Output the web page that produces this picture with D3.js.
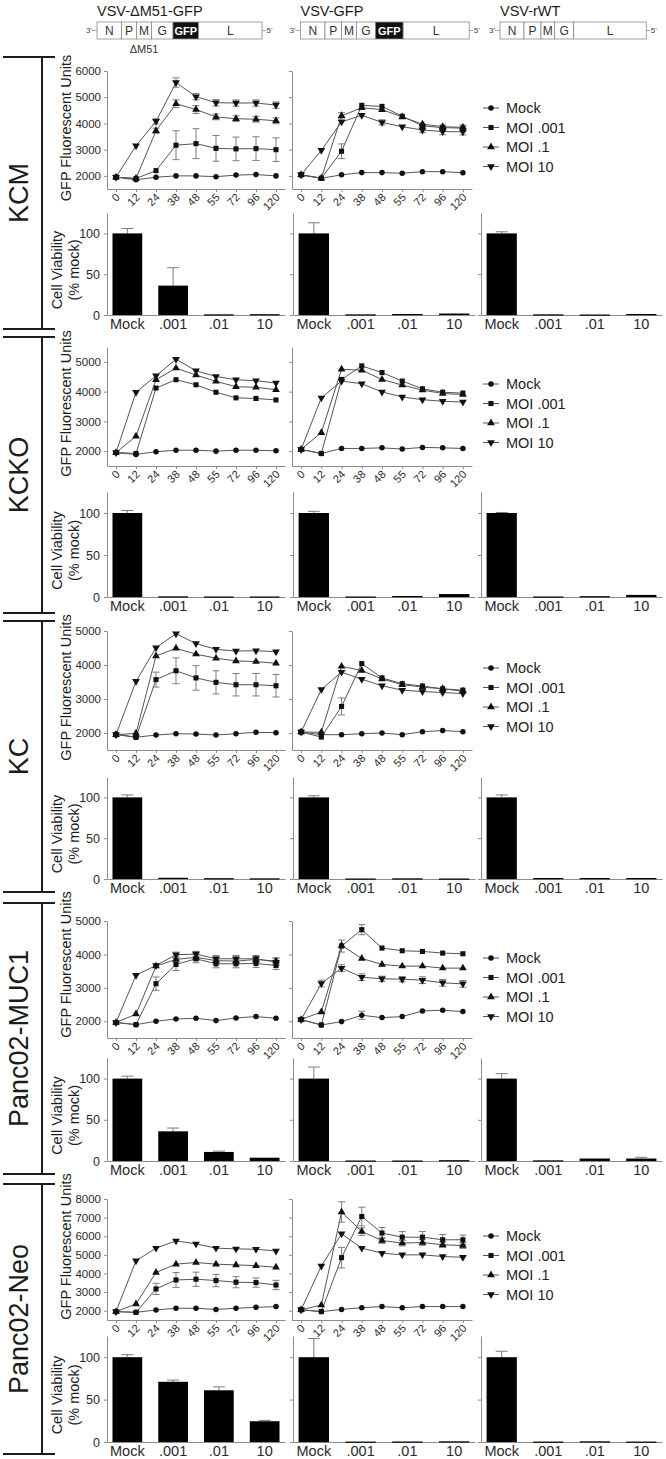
<!DOCTYPE html>
<html><head><meta charset="utf-8">
<script src="https://cdn.jsdelivr.net/npm/d3@7"></script>
<style>
body{margin:0;background:#fff}
svg text{font-family:"Liberation Sans",Arial,sans-serif}
</style>
</head><body>
<svg id="c" width="666" height="1459"></svg>
<script>
// ---------------- DATA ----------------
const times = ["0","12","24","38","48","55","72","96","120"];
const seriesNames = ["Mock","MOI .001","MOI .1","MOI 10"];
const barCats = ["Mock",".001",".01","10"];
const cellLines = ["KCM","KCKO","KC","Panc02-MUC1","Panc02-Neo"];
const viruses = ["VSV-\u0394M51-GFP","VSV-GFP","VSV-rWT"];
const genomeSegs = [["N","P","M","G","GFP","L"],["N","P","M","G","GFP","L"],["N","P","M","G","L"]];
const gfpTicks = [[2000,3000,4000,5000,6000],[2000,3000,4000,5000],[2000,3000,4000,5000],[2000,3000,4000,5000],[2000,3000,4000,5000,6000,7000,8000]];
const gfpMax = [6000,5500,5000,5000,8000];
const gfpMin = 1500;
const viabTicks = [0,50,100];
const viabMax = 125;

// GFP fluorescence: [Mock, MOI .001, MOI .1, MOI 10]
const gfp_KCM_dM51 = [
 [1950,1850,1950,2000,2000,1970,2030,2050,2000],
 [1950,1900,2200,3170,3230,3050,3030,3040,3000],
 [1950,1900,3720,4750,4530,4250,4180,4160,4100],
 [1950,3150,4080,5560,5020,4790,4780,4780,4700]];
const gfpErr_KCM_dM51 = [
 [20,20,20,20,20,20,20,20,20],
 [30,30,60,550,570,490,450,450,450],
 [30,30,100,150,150,110,110,110,110],
 [30,30,100,180,120,120,120,120,120]];
const gfp_KCM_GFP = [
 [2040,1910,2040,2125,2125,2100,2160,2160,2120],
 [2040,1910,2940,4690,4650,4275,3910,3840,3820],
 [2040,1910,4290,4600,4525,4250,3975,3875,3850],
 [2040,2975,4060,4310,4040,3875,3750,3690,3680]];
const gfpErr_KCM_GFP = [
 [20,20,20,20,20,20,20,20,20],
 [30,30,280,80,80,80,80,100,120],
 [30,30,120,60,60,60,80,80,80],
 [30,30,60,60,100,80,100,120,120]];

const gfp_KCKO_dM51 = [
 [1945,1890,1980,2030,2030,2000,2030,2030,2010],
 [1955,1920,4120,4400,4230,3980,3790,3770,3720],
 [1950,2500,4400,4790,4555,4345,4165,4145,4065],
 [1950,3980,4530,5090,4700,4510,4400,4365,4290]];
const gfpErr_KCKO_dM51 = [
 [20,20,20,20,20,20,20,20,20],
 [30,30,60,60,50,50,50,50,50],
 [30,30,50,50,50,50,50,50,50],
 [30,40,50,50,50,50,50,50,50]];
const gfp_KCKO_GFP = [
 [2057,1920,2090,2090,2110,2070,2125,2110,2090],
 [2057,1920,4410,4865,4640,4355,4095,3980,3950],
 [2057,2620,4750,4720,4410,4220,4050,3940,3900],
 [2057,3790,4355,4265,3990,3820,3730,3675,3650]];
const gfpErr_KCKO_GFP = [
 [20,20,20,20,20,20,20,20,20],
 [30,30,60,60,50,50,50,50,50],
 [30,30,50,50,50,50,50,50,50],
 [30,40,50,50,50,50,50,50,50]];

const gfp_KC_dM51 = [
 [1970,1875,1940,1980,1970,1940,1980,2020,2010],
 [1950,1875,3570,3830,3620,3490,3420,3420,3390],
 [1950,1990,4265,4490,4320,4200,4120,4100,4050],
 [1950,3520,4510,4920,4630,4460,4410,4420,4390]];
const gfpErr_KC_dM51 = [
 [20,20,20,20,20,20,20,20,20],
 [30,30,220,380,360,340,330,330,330],
 [30,30,40,40,40,40,40,40,40],
 [30,40,40,40,40,40,40,40,40]];
const gfp_KC_GFP = [
 [2030,1950,1950,1980,2000,1950,2040,2070,2040],
 [2030,1880,2780,4040,3620,3450,3380,3300,3260],
 [2030,2020,3960,3840,3590,3420,3350,3300,3230],
 [2030,3280,3790,3580,3390,3260,3220,3190,3160]];
const gfpErr_KC_GFP = [
 [20,20,20,20,20,20,20,20,20],
 [30,30,250,60,60,60,60,60,60],
 [30,30,50,50,50,50,50,50,50],
 [30,40,50,50,50,50,50,50,50]];

const gfp_MUC1_dM51 = [
 [1970,1900,2000,2070,2090,2020,2100,2140,2090],
 [1960,1900,3125,3700,3870,3720,3720,3730,3670],
 [1960,2215,3650,3850,3915,3815,3800,3850,3800],
 [1960,3380,3670,3990,4010,3870,3870,3870,3770]];
const gfpErr_MUC1_dM51 = [
 [20,20,20,20,20,20,20,20,20],
 [30,30,200,180,120,120,120,120,120],
 [30,30,60,100,100,100,100,100,100],
 [30,60,60,80,80,100,100,100,100]];
const gfp_MUC1_GFP = [
 [2050,1890,1990,2180,2110,2140,2310,2330,2290],
 [2050,1890,4250,4740,4190,4110,4090,4040,4020],
 [2050,2280,4270,3880,3700,3650,3650,3590,3590],
 [2050,3130,3590,3320,3270,3260,3230,3150,3120]];
const gfpErr_MUC1_GFP = [
 [20,20,20,120,40,40,40,40,40],
 [30,30,180,150,60,60,60,60,60],
 [30,30,50,50,50,50,50,50,50],
 [30,100,100,100,80,80,100,100,100]];

const gfp_Neo_dM51 = [
 [1950,1910,2040,2130,2130,2070,2130,2180,2220],
 [1950,1910,3170,3650,3690,3620,3530,3510,3380],
 [1950,2360,4050,4500,4590,4500,4460,4420,4330],
 [1950,4680,5360,5750,5590,5360,5320,5300,5210]];
const gfpErr_Neo_dM51 = [
 [20,20,20,20,20,20,20,20,20],
 [30,30,300,400,380,330,300,250,250],
 [30,30,60,60,60,60,60,60,60],
 [30,60,60,60,60,60,60,60,60]];
const gfp_Neo_GFP = [
 [2050,1950,2070,2160,2220,2160,2220,2220,2220],
 [2050,1950,4850,7060,6170,5950,5950,5810,5810],
 [2050,2300,7300,6250,5770,5630,5660,5540,5500],
 [2050,4400,6130,5360,5090,5000,5000,4910,4870]];
const gfpErr_Neo_GFP = [
 [20,20,20,20,20,20,20,20,20],
 [30,30,550,500,300,300,300,280,250],
 [30,30,550,200,150,150,150,150,150],
 [30,60,80,60,60,60,60,60,60]];

// Cell viability (% mock): per virus [Mock,.001,.01,10]
const viab_KCM  = [[100,36,0.8,1.0],[100,0.8,1.2,1.8],[100,0.8,0.6,1.2]];
const viabErr_KCM  = [[6,22,0,0],[13,0,0,0],[2,0,0,0]];
const viab_KCKO = [[100,0.8,0.6,0.6],[100,0.6,1.2,3.5],[100,0.6,1.0,2.5]];
const viabErr_KCKO = [[3,0,0,0],[2,0,0,0],[0.6,0,0,0]];
const viab_KC   = [[100,1.5,1.0,0.8],[100,0.6,0.8,0.6],[100,1.2,1.2,1.2]];
const viabErr_KC   = [[3,0,0,0],[2,0,0,0],[3,0,0,0]];
const viab_MUC1 = [[100,36,11,4],[100,0.6,0.6,1.0],[100,0.8,3,3]];
const viabErr_MUC1 = [[3,4,1,0],[14,0,0,0],[6,0,0,1.5]];
const viab_Neo  = [[100,71,61,24.5],[100,0.5,0.6,0.8],[100,0.5,0.8,0.5]];
const viabErr_Neo  = [[3,2,4,1],[22,0,0,0],[7,0,0,0]];

const gfpPanels = [[gfp_KCM_dM51,gfp_KCM_GFP],[gfp_KCKO_dM51,gfp_KCKO_GFP],[gfp_KC_dM51,gfp_KC_GFP],[gfp_MUC1_dM51,gfp_MUC1_GFP],[gfp_Neo_dM51,gfp_Neo_GFP]];
const gfpErrPanels = [[gfpErr_KCM_dM51,gfpErr_KCM_GFP],[gfpErr_KCKO_dM51,gfpErr_KCKO_GFP],[gfpErr_KC_dM51,gfpErr_KC_GFP],[gfpErr_MUC1_dM51,gfpErr_MUC1_GFP],[gfpErr_Neo_dM51,gfpErr_Neo_GFP]];
const viabPanels = [viab_KCM,viab_KCKO,viab_KC,viab_MUC1,viab_Neo];
const viabErrPanels = [viabErr_KCM,viabErr_KCKO,viabErr_KC,viabErr_MUC1,viabErr_Neo];

// ---------------- LAYOUT ----------------
const lineCols = [[107,285],[292,472]];
const barCols = [[107,285],[293,475],[481,662]];
const groupLineY = [[71,189],[347,466],[631,750],[921,1038],[1199,1320]];
const groupBarY = [[213,315],[492,597],[777,879],[1058,1161],[1336,1442]];
const groupBounds = [[57,329],[337,613],[621,892],[903,1174],[1184,1454]];
const gfpLabelShift = [-2,-3,-3,-15,-13];
const genomeX = [97,300.5,500];
const genomeW = [[24.5,15,15,21.5,25.5,63.5],[24.5,16.5,15,19,27.7,66],[24,17,13.7,19,72.6]];

const ink = "#1c1c1c", axisCol = "#8c8c8c", lineCol = "#555", errCol = "#7d7d7d", markCol = "#111";
const svg = d3.select("#c");

// ---------- header: titles & genome maps ----------
viruses.forEach((v,i)=>{
  const gx0 = genomeX[i];
  svg.append("text").attr("x",gx0).attr("y",16).text(v)
    .style("font-size","14.5px").attr("fill",ink);
  let x = gx0;
  genomeSegs[i].forEach((s,j)=>{
    const w = genomeW[i][j];
    const isG = s==="GFP";
    svg.append("rect").attr("x",x).attr("y",22).attr("width",w).attr("height",17)
      .attr("fill",isG?"#111":"#fff").attr("stroke","#8a8a8a").attr("stroke-width",0.8);
    svg.append("text").attr("x",x+w/2).attr("y",35).attr("text-anchor","middle").text(s)
      .style("font-size",isG?"11px":"12px").style("font-weight",isG?"bold":"normal")
      .attr("fill",isG?"#fff":"#333");
    x += w;
  });
  svg.append("text").attr("x",gx0-5).attr("y",33).attr("text-anchor","end").text("3'")
    .style("font-size","8px").attr("fill","#444");
  svg.append("line").attr("x1",gx0-5).attr("x2",gx0).attr("y1",30.5).attr("y2",30.5).attr("stroke","#8a8a8a").attr("stroke-width",0.8);
  svg.append("line").attr("x1",x).attr("x2",x+4).attr("y1",30.5).attr("y2",30.5).attr("stroke","#8a8a8a").attr("stroke-width",0.8);
  svg.append("text").attr("x",x+4.5).attr("y",33).text("5'")
    .style("font-size","8px").attr("fill","#444");
  if(i===0){
    const mx = gx0 + genomeW[0][0] + genomeW[0][1] + genomeW[0][2]/2;
    svg.append("text").attr("x",mx).attr("y",53).attr("text-anchor","middle").text("\u0394M51")
      .style("font-size","11px").attr("fill","#333");
  }
});

// ---------- left brackets & group labels ----------
groupBounds.forEach(([t,b],g)=>{
  svg.append("line").attr("x1",3).attr("x2",55).attr("y1",t).attr("y2",t).attr("stroke",ink).attr("stroke-width",2);
  svg.append("line").attr("x1",3).attr("x2",55).attr("y1",b).attr("y2",b).attr("stroke",ink).attr("stroke-width",2);
  svg.append("line").attr("x1",42).attr("x2",42).attr("y1",t).attr("y2",b).attr("stroke",ink).attr("stroke-width",2);
  svg.append("text").attr("transform",`translate(28,${(t+b)/2}) rotate(-90)`)
    .attr("text-anchor","middle").text(cellLines[g]).style("font-size","27px").attr("fill",ink);
});

function styleAxis(sel){
  sel.selectAll("path.domain").attr("stroke",axisCol).attr("stroke-width",1);
  sel.selectAll(".tick line").attr("stroke",axisCol);
  sel.selectAll(".tick text").attr("fill","#2a2a2a").style("font-family","'Liberation Sans',Arial,sans-serif");
}

const symbols = [d3.symbol().type(d3.symbolCircle).size(24),
                 d3.symbol().type(d3.symbolSquare).size(26),
                 d3.symbol().type(d3.symbolTriangle).size(26),
                 d3.symbol().type(d3.symbolTriangle).size(26)];
const symRot = [0,0,0,180];

// ---------- line charts ----------
cellLines.forEach((cl,g)=>{
  const [yTop,yBot] = groupLineY[g];
  const y = d3.scaleLinear().domain([gfpMin,gfpMax[g]]).range([yBot,yTop]);
  for(let c=0;c<2;c++){
    const [x0,x1] = lineCols[c];
    const x = d3.scalePoint().domain(times).range([x0,x1]).padding(0.45);
    const ay = svg.append("g").attr("transform",`translate(${x0},0)`)
      .call(d3.axisLeft(y).tickValues(gfpTicks[g]).tickSize(3).tickSizeOuter(0).tickPadding(3)
        .tickFormat(c===0?d3.format("d"):()=>""));
    styleAxis(ay);
    ay.selectAll(".tick text").style("font-size","11.5px");
    const ax = svg.append("g").attr("transform",`translate(0,${yBot})`)
      .call(d3.axisBottom(x).tickSize(3).tickSizeOuter(0));
    styleAxis(ax);
    ax.selectAll(".tick text").attr("x",0).attr("y",0).attr("dy",0)
      .attr("text-anchor","end").attr("transform","translate(4,9) rotate(-45)")
      .style("font-size","11px");

    const data = gfpPanels[g][c], errs = gfpErrPanels[g][c];
    const lineGen = d3.line().x((d,i)=>x(times[i])).y(d=>y(d));
    data.forEach((vals)=>{
      svg.append("path").attr("d",lineGen(vals)).attr("fill","none").attr("stroke",lineCol).attr("stroke-width",1);
    });
    data.forEach((vals,s)=>{
      vals.forEach((v,i)=>{
        const e = errs[s][i];
        if(y(v-e)-y(v+e) < 5) return;
        const cx = x(times[i]);
        const eg = svg.append("g").attr("stroke",errCol).attr("stroke-width",1);
        eg.append("line").attr("x1",cx).attr("x2",cx).attr("y1",y(v-e)).attr("y2",y(v+e));
        eg.append("line").attr("x1",cx-3.5).attr("x2",cx+3.5).attr("y1",y(v-e)).attr("y2",y(v-e));
        eg.append("line").attr("x1",cx-3.5).attr("x2",cx+3.5).attr("y1",y(v+e)).attr("y2",y(v+e));
      });
    });
    data.forEach((vals,s)=>{
      svg.append("g").selectAll("path").data(vals).join("path")
        .attr("d",symbols[s]())
        .attr("transform",(d,i)=>`translate(${x(times[i])},${y(d)}) rotate(${symRot[s]})`)
        .attr("fill",markCol);
    });
  }
  // legend
  const ly0 = yTop + 37;
  seriesNames.forEach((n,s)=>{
    const ly = ly0 + s*19.5;
    svg.append("line").attr("x1",483).attr("x2",499).attr("y1",ly).attr("y2",ly).attr("stroke",lineCol).attr("stroke-width",1);
    svg.append("path").attr("d",symbols[s]()).attr("transform",`translate(491,${ly}) rotate(${symRot[s]})`).attr("fill",markCol);
    svg.append("text").attr("x",506).attr("y",ly+5).text(n).style("font-size","14.5px").attr("fill",ink);
  });
  // y label
  svg.append("text").attr("transform",`translate(71,${(yTop+yBot)/2+gfpLabelShift[g]}) rotate(-90)`)
    .attr("text-anchor","middle").text("GFP Fluorescent Units").style("font-size","14.5px").attr("fill",ink);
});

// ---------- bar charts ----------
cellLines.forEach((cl,g)=>{
  const [bTop,bBot] = groupBarY[g];
  const y = d3.scaleLinear().domain([0,viabMax]).range([bBot,bTop]);
  for(let c=0;c<3;c++){
    const [x0,x1] = barCols[c];
    const x = d3.scaleBand().domain(barCats).range([x0,x1]).paddingInner(0.35).paddingOuter(0.12);
    const ay = svg.append("g").attr("transform",`translate(${x0},0)`)
      .call(d3.axisLeft(y).tickValues(viabTicks).tickSize(3).tickSizeOuter(0).tickPadding(4)
        .tickFormat(c===0?d3.format("d"):()=>""));
    styleAxis(ay);
    ay.selectAll(".tick text").style("font-size","12.5px");
    const ax = svg.append("g").attr("transform",`translate(0,${bBot})`)
      .call(d3.axisBottom(x).tickSize(0).tickSizeOuter(0));
    styleAxis(ax);
    ax.selectAll(".tick text").style("font-size","14.5px").attr("y",3.5).attr("dy","0.71em");

    const vals = viabPanels[g][c], errs = viabErrPanels[g][c];
    vals.forEach((v,i)=>{
      const e = errs[i];
      if(e>0){
        const cx = x(barCats[i]) + x.bandwidth()/2;
        svg.append("line").attr("x1",cx).attr("x2",cx).attr("y1",y(v)).attr("y2",y(v+e)).attr("stroke",errCol);
        svg.append("line").attr("x1",cx-6).attr("x2",cx+6).attr("y1",y(v+e)).attr("y2",y(v+e)).attr("stroke",errCol);
      }
    });
    svg.append("g").selectAll("rect").data(vals).join("rect")
      .attr("x",(d,i)=>x(barCats[i])).attr("width",x.bandwidth())
      .attr("y",d=>y(d)).attr("height",d=>Math.max(1.2,bBot-y(d)))
      .attr("fill","#000");
  }
  const mid = (bTop+bBot)/2 + 6;
  svg.append("text").attr("transform",`translate(62,${mid}) rotate(-90)`).attr("text-anchor","middle")
    .text("Cell Viability").style("font-size","14.5px").attr("fill",ink);
  svg.append("text").attr("transform",`translate(79,${mid}) rotate(-90)`).attr("text-anchor","middle")
    .text("(% mock)").style("font-size","14.5px").attr("fill",ink);
});
</script>
</body></html>
